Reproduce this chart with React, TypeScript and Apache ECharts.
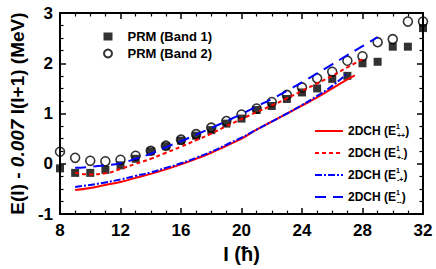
import React, { useEffect, useRef } from 'react';
import * as echarts from 'echarts';

const spins = [8, 9, 10, 11, 12, 13, 14, 15, 16, 17, 18, 19, 20, 21, 22, 23, 24, 25, 26, 27, 28, 29, 30, 31, 32];
const band1 = [-0.09, -0.18, -0.18, -0.12, -0.03, 0.1, 0.25, 0.35, 0.46, 0.56, 0.67, 0.8, 0.9, 1.07, 1.15, 1.29, 1.42, 1.5, 1.69, 1.75, 2.0, 2.03, 2.33, 2.33, 2.7];
const band2 = [0.24, 0.12, 0.06, 0.05, 0.08, 0.16, 0.26, 0.36, 0.48, 0.59, 0.72, 0.85, 0.98, 1.1, 1.23, 1.37, 1.52, 1.7, 1.83, 2.05, 2.14, 2.42, 2.48, 2.83, 2.83];

const spinsPP = [9, 10, 11, 12, 13, 14, 15, 16, 17, 18, 19, 20, 21, 22, 23, 24, 25, 26, 27, 27.5];
const ePP = [-0.52, -0.48, -0.42, -0.36, -0.28, -0.2, -0.11, -0.01, 0.1, 0.22, 0.36, 0.5, 0.68, 0.84, 1.0, 1.16, 1.32, 1.5, 1.68, 1.76];
const spinsPM = [9, 10, 11, 12, 13, 14, 15, 16, 17, 18, 19, 20, 21, 22, 23, 24, 25, 26, 27, 28];
const ePM = [-0.18, -0.21, -0.19, -0.1, 0.0, 0.1, 0.22, 0.34, 0.47, 0.6, 0.75, 0.89, 1.03, 1.16, 1.3, 1.45, 1.6, 1.75, 1.92, 2.08];
const spinsMP = [9, 10, 11, 12, 13, 14, 15, 16, 17, 18, 19, 20, 21, 22, 23, 24, 25, 26, 27];
const eMP = [-0.46, -0.42, -0.37, -0.31, -0.24, -0.17, -0.08, 0.01, 0.12, 0.24, 0.38, 0.52, 0.68, 0.84, 1.0, 1.17, 1.35, 1.55, 1.8];
const spinsMM = [9, 10, 11, 12, 13, 14, 15, 16, 17, 18, 19, 20, 21, 22, 23, 24, 25, 26, 27, 28, 29];
const eMM = [-0.08, -0.06, -0.03, 0.01, 0.1, 0.2, 0.33, 0.45, 0.58, 0.71, 0.85, 0.99, 1.14, 1.29, 1.45, 1.62, 1.8, 1.98, 2.16, 2.34, 2.52];

const bandNames = ['PRM (Band 1)', 'PRM (Band 2)'];
const lineNames = ['2DCH (E++)', '2DCH (E+-)', '2DCH (E-+)', '2DCH (E--)'];
const lineSubs = ['++', '+-', '-+', '--'];

const FONT = 'Liberation Sans';

export default function App() {
  const ref = useRef<HTMLDivElement>(null);
  useEffect(() => {
    const chart = echarts.init(ref.current!, null, { renderer: 'svg' });
    const zip = (xs: number[], ys: number[]) => xs.map((x, i) => [x, ys[i]]);
    const axisCommon = {
      axisLine: { show: true, onZero: false, lineStyle: { color: '#000', width: 2 } },
      axisTick: { show: true, inside: true, length: 6, lineStyle: { color: '#000', width: 1.5 } },
      minorTick: { show: true, splitNumber: 4, length: 3.5, lineStyle: { color: '#000', width: 1.2 } },
      splitLine: { show: false },
      minorSplitLine: { show: false },
    };
    const labelStyle = { color: '#000', fontFamily: FONT, fontWeight: 'bold', fontSize: 17 };
    const lineSeries = (name: string, xs: number[], ys: number[], color: string, type: any) => ({
      name,
      type: 'line',
      data: zip(xs, ys),
      smooth: true,
      symbol: 'none',
      showSymbol: false,
      lineStyle: { color, width: 2, type },
      itemStyle: { color },
      z: 3,
    });
    chart.setOption({
      animation: false,
      backgroundColor: '#fff',
      grid: { left: 57, right: 13, top: 13, bottom: 52 },
      xAxis: [
        {
          type: 'value', min: 8, max: 32, interval: 4, position: 'bottom',
          ...axisCommon,
          axisLabel: { ...labelStyle, margin: 8 },
          name: 'I (ħ)', nameLocation: 'middle', nameGap: 28,
          nameTextStyle: { color: '#000', fontFamily: FONT, fontWeight: 'bold', fontSize: 20 },
        },
        {
          type: 'value', min: 8, max: 32, interval: 4, position: 'top',
          ...axisCommon, axisLabel: { show: false },
        },
      ],
      yAxis: [
        {
          type: 'value', min: -1, max: 3, interval: 1, position: 'left',
          ...axisCommon,
          axisLabel: { ...labelStyle, margin: 7 },
          name: 'E(I) - {i|0.007} I(I+1) (MeV)', nameLocation: 'middle', nameGap: 30,
          nameTextStyle: {
            color: '#000', fontFamily: FONT, fontWeight: 'bold', fontSize: 19,
            rich: { i: { color: '#000', fontFamily: FONT, fontWeight: 'bold', fontStyle: 'italic', fontSize: 19 } },
          },
        },
        {
          type: 'value', min: -1, max: 3, interval: 1, position: 'right',
          ...axisCommon, axisLabel: { show: false },
        },
      ],
      legend: [
        {
          data: bandNames,
          orient: 'vertical',
          left: 98, top: 25,
          itemWidth: 9, itemHeight: 8, itemGap: 4,
          textStyle: { color: '#000', fontFamily: FONT, fontWeight: 'bold', fontSize: 13, lineHeight: 13, padding: [0, 0, 0, 10] },
        },
        {
          data: lineNames,
          orient: 'vertical',
          left: 309, top: 118,
          itemWidth: 28, itemHeight: 10, itemGap: 6,
          itemStyle: { opacity: 0 },
          formatter: (name: string) => {
            const idx = lineNames.indexOf(name);
            return `2DCH (E{sup|1}{sub|${lineSubs[idx]}})`;
          },
          textStyle: {
            color: '#000', fontFamily: FONT, fontWeight: 'bold', fontSize: 12, lineHeight: 16,
            rich: {
              sup: { fontFamily: FONT, fontWeight: 'bold', fontSize: 7, lineHeight: 8, verticalAlign: 'top', width: 1, color: '#000' },
              sub: { fontFamily: FONT, fontWeight: 'bold', fontSize: 7, lineHeight: 8, verticalAlign: 'bottom', color: '#000' },
            },
          },
        },
      ],
      series: [
        {
          name: bandNames[0], type: 'scatter', data: zip(spins, band1),
          symbol: 'rect', symbolSize: 8, itemStyle: { color: '#000' }, z: 2,
        },
        {
          name: bandNames[1], type: 'scatter', data: zip(spins, band2),
          symbol: 'circle', symbolSize: 9,
          itemStyle: { color: 'rgba(0,0,0,0)', borderColor: '#000', borderWidth: 1.6 }, z: 2,
        },
        lineSeries(lineNames[0], spinsPP, ePP, '#ff0000', 'solid'),
        lineSeries(lineNames[1], spinsPM, ePM, '#ff0000', [4, 3]),
        lineSeries(lineNames[2], spinsMP, eMP, '#0000ff', [7, 2, 2, 2]),
        lineSeries(lineNames[3], spinsMM, eMM, '#0000ff', [11, 7]),
      ],
    });
    return () => chart.dispose();
  }, []);
  return <div ref={ref} style={{ position: 'absolute', left: 0, top: 0, width: 436, height: 269 }} />;
}
